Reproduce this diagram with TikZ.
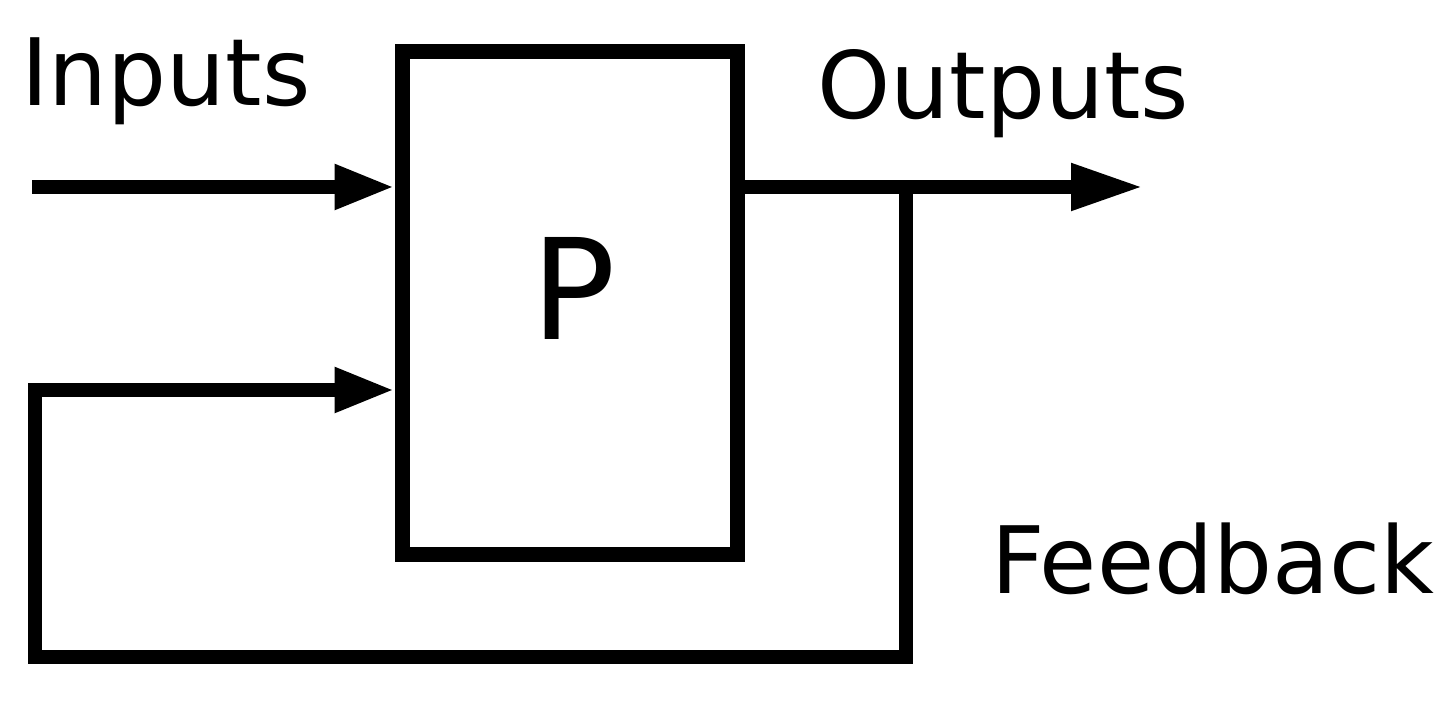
\documentclass[tikz,border=0pt]{standalone}
\usepackage{fontspec}
\setmainfont{DejaVu Sans}
\usetikzlibrary{arrows.meta}
\begin{document}
\begin{tikzpicture}[x=0.5pt,y=-0.5pt,
  line/.style={line width=7pt,line join=miter,line cap=butt},
  arr/.style={line, -{Triangle[length=30pt,width=21pt]}},
  lbl/.style={font=\fontsize{46.5pt}{50pt}\selectfont, inner sep=0pt, anchor=base west},
  proc/.style={draw, line width=7.5pt, minimum width=167.5pt, minimum height=251.5pt, inner sep=0pt}]
\useasboundingbox[fill=white] (0,0) rectangle (1455,704);
\node[proc] (box) at (569.5,303.5) {};
\node[inner sep=0pt, anchor=base west, font=\fontsize{70pt}{72pt}\selectfont] (P) at (531,340) {P};
\node[lbl] (inputs) at (21,106) {Inputs};
\node[lbl] (outputs) at (817,119) {Outputs};
\node[lbl] (feedback) at (991,594) {Feedback};
\coordinate (inS) at (32,187);
\coordinate (outE) at (1143,187);
\coordinate (fb) at (906,187);
\coordinate (bl) at (35,657);
\coordinate (fl) at (35,390);
\draw[arr] (inS) -- (inS -| box.west);
\draw[line, -{Triangle[length=36pt,width=22pt]}] (box.east |- outE) -- (outE);
\draw[arr] (fb) |- (bl) -- (fl) -- (fl -| box.west);
\end{tikzpicture}
\end{document}
